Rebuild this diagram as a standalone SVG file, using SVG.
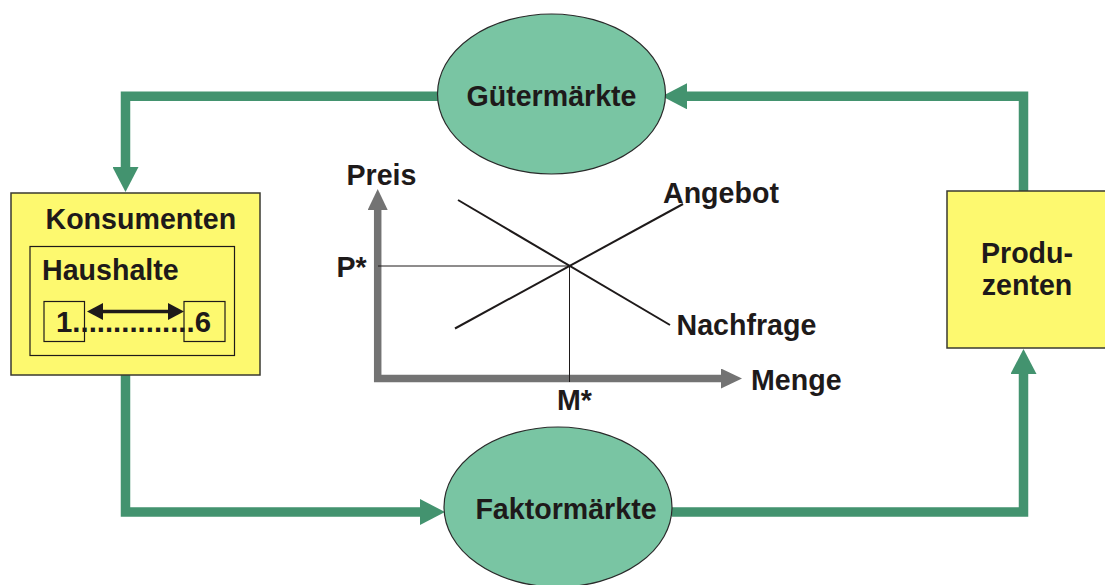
<svg xmlns="http://www.w3.org/2000/svg" width="1105" height="585" viewBox="0 0 1105 585">
<style>
text{font-family:"Liberation Sans",Arial,sans-serif;font-weight:bold;font-size:28.6px;fill:#1e1a1a}
.ell{fill:#79c5a3;stroke:#2a2a2a;stroke-width:1.2}
.box{fill:#fdf96f;stroke:#3a3a30;stroke-width:1.5}
.thin{fill:none;stroke:#1e1a1a;stroke-width:1.2}
.flow{fill:none;stroke:#43936f;stroke-width:9.5;stroke-linejoin:miter}
.axis{fill:none;stroke:#737373;stroke-width:7.5;stroke-linejoin:miter}
.curve{fill:none;stroke:#1e1a1a;stroke-width:2}
.guide{fill:none;stroke:#1e1a1a;stroke-width:1}
</style>
<defs>
<marker id="ga" markerUnits="userSpaceOnUse" viewBox="0 0 25 26" refX="0" refY="13" markerWidth="25" markerHeight="26" orient="auto">
<path d="M0,0 L25,13 L0,26 Z" fill="#43936f"/>
</marker>
<marker id="xa" markerUnits="userSpaceOnUse" viewBox="0 0 21 20" refX="0" refY="10" markerWidth="21" markerHeight="20" orient="auto-start-reverse">
<path d="M0,0 L21,10 L0,20 Z" fill="#737373"/>
</marker>
<marker id="ba" markerUnits="userSpaceOnUse" viewBox="0 0 16 17" refX="1" refY="8.5" markerWidth="16" markerHeight="17" orient="auto-start-reverse">
<path d="M0,0 L16,8.5 L0,17 Z" fill="#1e1a1a"/>
</marker>
</defs>

<g id="connectors">
<path class="flow" d="M1023.5,191 V96.3 H687" marker-end="url(#ga)"/>
<path class="flow" d="M438,96.3 H125.5 V167" marker-end="url(#ga)"/>
<path class="flow" d="M125.5,375 V512 H420" marker-end="url(#ga)"/>
<path class="flow" d="M672,512 H1023.5 V374" marker-end="url(#ga)"/>
</g>

<g id="gueter">
<ellipse class="ell" cx="551.5" cy="94" rx="114" ry="80"/>
<text x="551.5" y="106" text-anchor="middle">Gütermärkte</text>
</g>

<g id="faktor">
<ellipse class="ell" cx="558" cy="507" rx="114" ry="80"/>
<text x="566" y="519" text-anchor="middle">Faktormärkte</text>
</g>

<g id="konsumenten">
<rect class="box" x="11" y="193" width="249" height="182"/>
<text x="45.5" y="229">Konsumenten</text>
<rect class="thin" x="30" y="246.5" width="204.5" height="109"/>
<text x="42" y="280">Haushalte</text>
<rect class="thin" x="44" y="301.5" width="40.5" height="40"/>
<rect class="thin" x="184" y="301.5" width="41" height="40"/>
<path d="M102,311.5 H169" stroke="#1e1a1a" stroke-width="3.5" fill="none" marker-start="url(#ba)" marker-end="url(#ba)"/>
<text x="56" y="332" textLength="155" lengthAdjust="spacingAndGlyphs">1...............6</text>
</g>

<g id="produzenten">
<rect class="box" x="947" y="191" width="170" height="157"/>
<text x="1027" y="263" text-anchor="middle">Produ-</text>
<text x="1027" y="295" text-anchor="middle">zenten</text>
</g>

<g id="chart">
<path class="axis" d="M377.7,210 V378.5 H721" marker-start="url(#xa)" marker-end="url(#xa)"/>
<path class="guide" d="M378,266 H569.5 V382"/>
<path class="curve" d="M458,200 L670,325"/>
<path class="curve" d="M455,328.5 L683,204"/>
<text x="346.5" y="185">Preis</text>
<text x="663" y="203">Angebot</text>
<text x="336.5" y="277">P*</text>
<text x="676.5" y="335">Nachfrage</text>
<text x="751" y="389.5">Menge</text>
<text x="557" y="410">M*</text>
</g>
</svg>
